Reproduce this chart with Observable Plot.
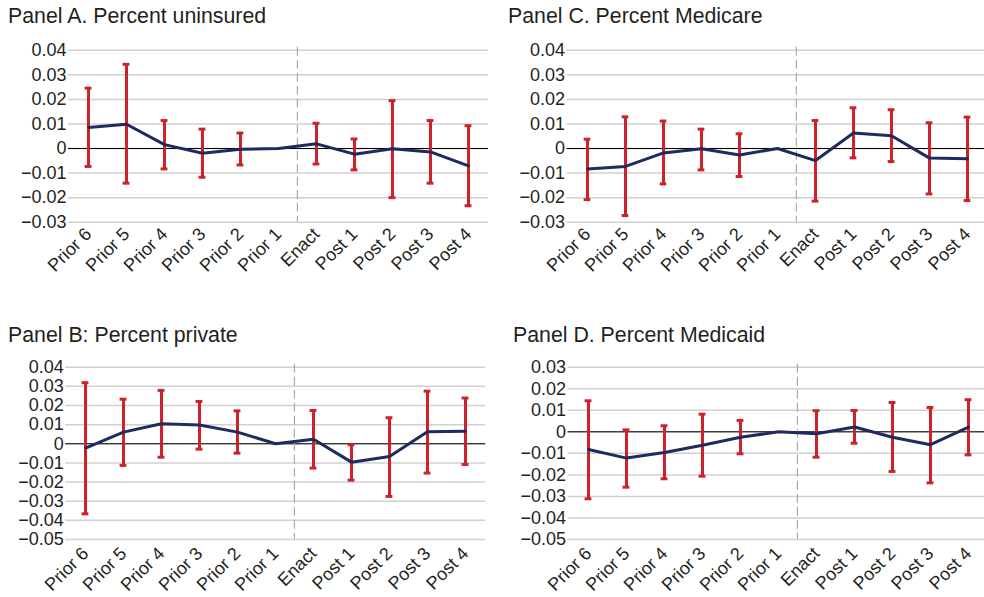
<!DOCTYPE html>
<html><head><meta charset="utf-8">
<script src="https://cdn.jsdelivr.net/npm/d3@7"></script>
<script src="https://cdn.jsdelivr.net/npm/@observablehq/plot@0.6"></script>
<style>
body{margin:0;background:#fff;}
#wrap{position:relative;width:984px;height:597px;overflow:hidden;font-family:"Liberation Sans",Arial,sans-serif;background:#fff;}
.title{position:absolute;font-size:21.3px;color:#231f20;white-space:nowrap;line-height:1;}
</style></head><body><div id="wrap"></div>
<script>
const periods = ["Prior 6","Prior 5","Prior 4","Prior 3","Prior 2","Prior 1","Enact","Post 1","Post 2","Post 3","Post 4"];

const uninsuredEst = [0.0086, 0.0099, 0.0016, -0.0019, -0.0003, 0, 0.0019, -0.0023, -0.0001, -0.0014, -0.0071];
const uninsuredHi  = [0.0246, 0.0343, 0.0114, 0.0079, 0.0063, null, 0.0103, 0.0039, 0.0195, 0.0114, 0.0093];
const uninsuredLo  = [-0.0073, -0.0141, -0.0083, -0.0117, -0.0067, null, -0.0063, -0.0087, -0.0200, -0.0141, -0.0233];

const medicareEst = [-0.0083, -0.0073, -0.0018, -0.0001, -0.0026, 0, -0.0049, 0.0063, 0.0052, -0.0039, -0.0042];
const medicareHi  = [0.0038, 0.0129, 0.0112, 0.0079, 0.0060, null, 0.0114, 0.0166, 0.0158, 0.0105, 0.0128];
const medicareLo  = [-0.0208, -0.0273, -0.0144, -0.0087, -0.0114, null, -0.0214, -0.0038, -0.0053, -0.0185, -0.0212];

const privateEst = [-0.0023, 0.0061, 0.0105, 0.0098, 0.0061, 0, 0.0024, -0.0096, -0.0066, 0.0063, 0.0066];
const privateHi  = [0.0319, 0.0233, 0.0279, 0.0221, 0.0172, null, 0.0174, -0.0005, 0.0136, 0.0275, 0.0239];
const privateLo  = [-0.0366, -0.0113, -0.0070, -0.0028, -0.0049, null, -0.0127, -0.0190, -0.0275, -0.0153, -0.0108];

const medicaidEst = [-0.0082, -0.0122, -0.0096, -0.0062, -0.0025, 0, -0.0009, 0.0022, -0.0025, -0.0060, 0.0022];
const medicaidHi  = [0.0144, 0.0009, 0.0028, 0.0082, 0.0053, null, 0.0098, 0.0099, 0.0136, 0.0113, 0.0149];
const medicaidLo  = [-0.0311, -0.0257, -0.0218, -0.0206, -0.0102, null, -0.0118, -0.0053, -0.0184, -0.0237, -0.0107];

const red = "#cc2229";
const navy = "#1f2a5e";
const wrap = document.getElementById("wrap");
const fmt = d => d === 0 ? "0" : d3.format(".2f")(d);

function panel(o) {
  const data = periods.map((p, i) => ({p, v: o.est[i], lo: o.lo[i], hi: o.hi[i]}));
  const bars = data.filter(d => d.lo != null && d.hi != null);
  const ticks = d3.range(Math.round(o.yMin * 100), Math.round(o.yMax * 100) + 1).map(k => k / 100);
  const step = (o.width - o.ml - o.mr) / periods.length;
  const capInset = (step - 7) / 2;
  const svg = Plot.plot({
    width: o.width, height: o.height,
    marginLeft: o.ml, marginRight: o.mr, marginTop: o.mt, marginBottom: o.mb,
    style: {fontFamily: "'Liberation Sans', Arial, sans-serif", fontSize: "18px", color: "#231f20", background: "transparent", overflow: "visible"},
    x: {type: "band", domain: periods, padding: 0, label: null, tickSize: 0, tickRotate: -45, tickPadding: o.xPad},
    y: {domain: [o.yMin, o.yMax], label: null, ticks, tickSize: 0, tickPadding: 2, tickFormat: fmt},
    marks: [
      Plot.ruleY(ticks, {stroke: "#d0d0d0", strokeWidth: 1.5}),
      Plot.ruleY([0], {stroke: "#000", strokeWidth: 1}),
      Plot.ruleX(["Enact"], {dx: -step / 2, stroke: "#aaaaaa", strokeWidth: 1.2, strokeDasharray: "9,4", insetTop: -3}),
      Plot.ruleX(bars, {x: "p", y1: "lo", y2: "hi", stroke: red, strokeWidth: 3}),
      Plot.tickY(bars, {x: "p", y: "hi", stroke: red, strokeWidth: 3, insetLeft: capInset, insetRight: capInset}),
      Plot.tickY(bars, {x: "p", y: "lo", stroke: red, strokeWidth: 3, insetLeft: capInset, insetRight: capInset}),
      Plot.line(data, {x: "p", y: "v", stroke: navy, strokeWidth: 3})
    ]
  });
  svg.style.position = "absolute";
  svg.style.left = o.left + "px";
  svg.style.top = o.top + "px";
  wrap.appendChild(svg);
  const t = document.createElement("div");
  t.className = "title";
  t.textContent = o.title;
  t.style.left = o.titleX + "px";
  t.style.top = o.titleY + "px";
  wrap.appendChild(t);
}

panel({title: "Panel A. Percent uninsured", titleX: 8, titleY: 6, est: uninsuredEst, lo: uninsuredLo, hi: uninsuredHi,
  yMin: -0.03, yMax: 0.04, left: 0, top: 30, width: 490, height: 280, ml: 68, mr: 2, mt: 19.8, mb: 88.3, xPad: 9});
panel({title: "Panel C. Percent Medicare", titleX: 508, titleY: 6, est: medicareEst, lo: medicareLo, hi: medicareHi,
  yMin: -0.03, yMax: 0.04, left: 495, top: 30, width: 494, height: 280, ml: 71.5, mr: 1, mt: 19.8, mb: 88.3, xPad: 9});
panel({title: "Panel B: Percent private", titleX: 8, titleY: 325, est: privateEst, lo: privateLo, hi: privateHi,
  yMin: -0.05, yMax: 0.04, left: 0, top: 330, width: 490, height: 267, ml: 65.2, mr: 4.8, mt: 36.7, mb: 58, xPad: 11});
panel({title: "Panel D. Percent Medicaid", titleX: 513, titleY: 325, est: medicaidEst, lo: medicaidLo, hi: medicaidHi,
  yMin: -0.05, yMax: 0.03, left: 495, top: 330, width: 494, height: 267, ml: 72.6, mr: 1.4, mt: 36.7, mb: 58, xPad: 11});
</script>
</body></html>
